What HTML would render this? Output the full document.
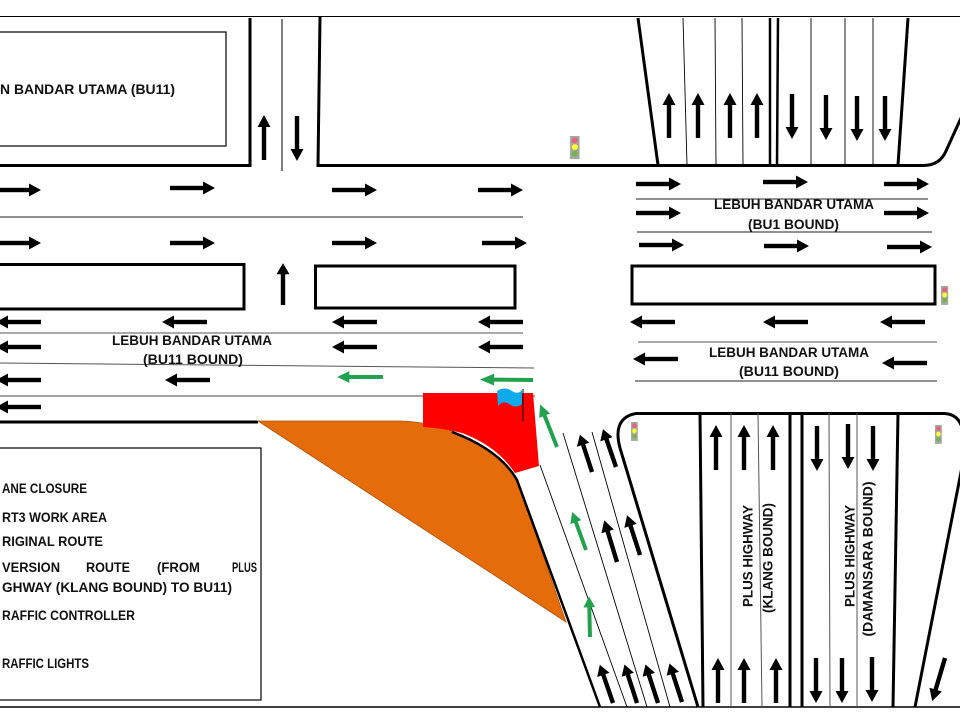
<!DOCTYPE html>
<html><head><meta charset="utf-8"><style>
html,body{margin:0;padding:0;background:#fff;}
svg{display:block;}
text{font-family:"Liberation Sans",Arial,sans-serif;font-weight:bold;font-size:13.5px;fill:#111;}
</style></head><body>
<svg width="960" height="720" viewBox="0 0 960 720" xmlns="http://www.w3.org/2000/svg">
<defs>
<g id="ar"><rect x="0" y="-2.2" width="34" height="4.4"/><polygon points="33,-6.5 45,0 33,6.5"/></g>
<g id="tl"><rect x="0" y="0" width="8" height="21" fill="#a3a8a0"/><circle cx="4" cy="4" r="2.6" fill="#e8607a"/><circle cx="4" cy="10" r="2.6" fill="#ffff33"/><circle cx="4" cy="16" r="2.6" fill="#7ab050"/></g>
</defs>
<rect width="960" height="720" fill="#fff"/>

<!-- top & bottom frame lines -->
<line x1="0" y1="16.5" x2="960" y2="16.5" stroke="#000" stroke-width="1"/>
<line x1="0" y1="707" x2="960" y2="707" stroke="#000" stroke-width="1.5"/>

<!-- top-left building -->
<rect x="-2" y="32" width="228" height="114" fill="none" stroke="#000" stroke-width="1.2"/>
<text x="0" y="94" textLength="175" lengthAdjust="spacingAndGlyphs">N BANDAR UTAMA (BU11)</text>

<!-- vertical road top-left -->
<polyline points="0,165.5 250,165.5 250,18" fill="none" stroke="#000" stroke-width="3"/>
<line x1="282" y1="19" x2="282" y2="171" stroke="#000" stroke-width="1"/>
<polyline points="320,17 318,165.5 925,165.5" fill="none" stroke="#000" stroke-width="3"/>
<path d="M924,165.5 Q940,165 946,151 L961,118" fill="none" stroke="#000" stroke-width="3"/>

<!-- upper-right vertical road -->
<line x1="638" y1="18" x2="658" y2="165" stroke="#000" stroke-width="3"/>
<line x1="683" y1="18" x2="687" y2="165" stroke="#000" stroke-width="0.9"/>
<line x1="715" y1="18" x2="716" y2="165" stroke="#000" stroke-width="0.9"/>
<line x1="742" y1="18" x2="743" y2="165" stroke="#000" stroke-width="0.9"/>
<line x1="770" y1="18" x2="770" y2="165" stroke="#000" stroke-width="2.5"/>
<line x1="778" y1="18" x2="777" y2="165" stroke="#000" stroke-width="2.5"/>
<line x1="811" y1="18" x2="811" y2="165" stroke="#000" stroke-width="0.9"/>
<line x1="845" y1="18" x2="845" y2="165" stroke="#000" stroke-width="0.9"/>
<line x1="873" y1="18" x2="873" y2="165" stroke="#000" stroke-width="0.9"/>
<line x1="908" y1="18" x2="898" y2="165" stroke="#000" stroke-width="3"/>

<!-- left horizontal road lines -->
<line x1="0" y1="217" x2="523" y2="217" stroke="#222" stroke-width="1"/>
<rect x="-3" y="264.5" width="247" height="44.5" fill="none" stroke="#000" stroke-width="3"/>
<rect x="315.5" y="266" width="199.5" height="42" fill="none" stroke="#000" stroke-width="3"/>
<line x1="0" y1="333" x2="523" y2="333" stroke="#555" stroke-width="1"/>
<line x1="0" y1="363" x2="534" y2="368" stroke="#555" stroke-width="1"/>
<line x1="0" y1="396" x2="535" y2="396" stroke="#444" stroke-width="1"/>
<line x1="0" y1="422" x2="258" y2="422" stroke="#000" stroke-width="3"/>

<!-- right horizontal road lines -->
<line x1="636" y1="199" x2="928" y2="199" stroke="#222" stroke-width="1"/>
<line x1="637" y1="232" x2="932" y2="232" stroke="#222" stroke-width="1"/>
<rect x="632" y="266" width="303" height="38" fill="none" stroke="#000" stroke-width="3"/>
<line x1="638" y1="342" x2="937" y2="342" stroke="#555" stroke-width="1"/>
<line x1="635" y1="381" x2="937" y2="381" stroke="#222" stroke-width="1"/>

<!-- orange work area -->
<path d="M258,421 L400,421 C440,422 492,440 517,480 L566,622 Z" fill="#e46c0a" stroke="#b0500a" stroke-width="0.8"/>
<!-- red lane closure -->
<path d="M423,393 L533,393 L539,466 L515,473 Q497,446 462,433 Q442,428 423,427 Z" fill="#ff0000"/>
<!-- left boundary of diagonal road -->
<path d="M452,432 Q500,450 517,480 L600,707" fill="none" stroke="#000" stroke-width="2.5"/>

<!-- diagonal road lines -->
<line x1="540" y1="465" x2="627" y2="707" stroke="#000" stroke-width="0.9"/>
<line x1="563" y1="433" x2="647" y2="707" stroke="#000" stroke-width="0.9"/>
<line x1="592" y1="432" x2="670" y2="707" stroke="#000" stroke-width="0.9"/>

<!-- Plus highway block -->
<path d="M698,707 L620,448 Q612,418 636,413.5 L944,413.5 Q960,414 963,432" fill="none" stroke="#000" stroke-width="3"/>
<line x1="963" y1="462" x2="915" y2="707" stroke="#000" stroke-width="3"/>
<line x1="700" y1="413" x2="703" y2="707" stroke="#000" stroke-width="3"/>
<line x1="731" y1="413" x2="731" y2="707" stroke="#555" stroke-width="1"/>
<line x1="758" y1="413" x2="762" y2="707" stroke="#555" stroke-width="1"/>
<line x1="790" y1="413" x2="790" y2="707" stroke="#000" stroke-width="3"/>
<line x1="802" y1="413" x2="802" y2="707" stroke="#000" stroke-width="3"/>
<line x1="829" y1="413" x2="830" y2="707" stroke="#555" stroke-width="1"/>
<line x1="857" y1="413" x2="857" y2="707" stroke="#555" stroke-width="1"/>
<line x1="898" y1="413" x2="893" y2="707" stroke="#000" stroke-width="3"/>

<!-- flag -->
<line x1="523" y1="389" x2="523" y2="421" stroke="#000" stroke-width="1"/>
<path d="M497,391 Q505,386 512,391 Q518,395 522,390 L522,404 Q516,409 509,404 Q503,400 498,406 Z" fill="#10aaea"/>

<!-- traffic lights -->
<use href="#tl" transform="translate(570,136) scale(1.2,1.1)"/>
<use href="#tl" transform="translate(941,286) scale(0.9,0.9)"/>
<use href="#tl" transform="translate(631,422) scale(0.85,0.9)"/>
<use href="#tl" transform="translate(935,425) scale(0.85,0.9)"/>

<!-- black arrows -->
<g fill="#000">
<!-- left road right-pointing -->
<use href="#ar" transform="translate(-4,190)"/>
<use href="#ar" transform="translate(170,188)"/>
<use href="#ar" transform="translate(332,190)"/>
<use href="#ar" transform="translate(478,190)"/>
<use href="#ar" transform="translate(-4,243)"/>
<use href="#ar" transform="translate(170,243)"/>
<use href="#ar" transform="translate(332,243)"/>
<use href="#ar" transform="translate(482,243)"/>
<!-- left road left-pointing -->
<use href="#ar" transform="translate(41,322) rotate(180)"/>
<use href="#ar" transform="translate(207,322) rotate(180)"/>
<use href="#ar" transform="translate(377,322) rotate(180)"/>
<use href="#ar" transform="translate(523,322) rotate(180)"/>
<use href="#ar" transform="translate(41,347) rotate(180)"/>
<use href="#ar" transform="translate(377,347) rotate(180)"/>
<use href="#ar" transform="translate(523,347) rotate(180)"/>
<use href="#ar" transform="translate(41,380) rotate(180)"/>
<use href="#ar" transform="translate(210,380) rotate(180)"/>
<use href="#ar" transform="translate(41,407) rotate(180)"/>
<!-- vertical arrows top-left -->
<use href="#ar" transform="translate(264,160) rotate(-90)"/>
<use href="#ar" transform="translate(297,116) rotate(90)"/>
<use href="#ar" transform="translate(283,305) rotate(-90) scale(0.93,1)"/>
<!-- upper right vertical road -->
<use href="#ar" transform="translate(669,138) rotate(-90)"/>
<use href="#ar" transform="translate(698,138) rotate(-90)"/>
<use href="#ar" transform="translate(730,138) rotate(-90)"/>
<use href="#ar" transform="translate(757,138) rotate(-90)"/>
<use href="#ar" transform="translate(792,94) rotate(90)"/>
<use href="#ar" transform="translate(826,95) rotate(90)"/>
<use href="#ar" transform="translate(857,96) rotate(90)"/>
<use href="#ar" transform="translate(885,96) rotate(90)"/>
<!-- right horizontal road -->
<use href="#ar" transform="translate(636,184)"/>
<use href="#ar" transform="translate(763,182)"/>
<use href="#ar" transform="translate(884,184)"/>
<use href="#ar" transform="translate(636,213)"/>
<use href="#ar" transform="translate(884,213)"/>
<use href="#ar" transform="translate(639,245)"/>
<use href="#ar" transform="translate(764,246)"/>
<use href="#ar" transform="translate(887,247)"/>
<use href="#ar" transform="translate(675,322) rotate(180)"/>
<use href="#ar" transform="translate(808,322) rotate(180)"/>
<use href="#ar" transform="translate(925,322) rotate(180)"/>
<use href="#ar" transform="translate(678,359) rotate(180)"/>
<use href="#ar" transform="translate(927,363) rotate(180)"/>
<!-- plus highway -->
<use href="#ar" transform="translate(716,470) rotate(-90)"/>
<use href="#ar" transform="translate(744,470) rotate(-90)"/>
<use href="#ar" transform="translate(773,470) rotate(-90)"/>
<use href="#ar" transform="translate(817,426) rotate(90)"/>
<use href="#ar" transform="translate(848,424) rotate(90)"/>
<use href="#ar" transform="translate(873,426) rotate(90)"/>
<use href="#ar" transform="translate(718,703) rotate(-90)"/>
<use href="#ar" transform="translate(744,703) rotate(-90)"/>
<use href="#ar" transform="translate(776,703) rotate(-90)"/>
<use href="#ar" transform="translate(816,658) rotate(90)"/>
<use href="#ar" transform="translate(842,658) rotate(90)"/>
<use href="#ar" transform="translate(872,657) rotate(90)"/>
<use href="#ar" transform="translate(945,658) rotate(106.5)"/>
<!-- diagonal road -->
<use href="#ar" transform="translate(592,472) rotate(-108) scale(0.87,1)"/>
<use href="#ar" transform="translate(616,467) rotate(-109) scale(0.89,1)"/>
<use href="#ar" transform="translate(617,562) rotate(-107) scale(0.97,1)"/>
<use href="#ar" transform="translate(640,555) rotate(-108) scale(0.93,1)"/>
<use href="#ar" transform="translate(613,703) rotate(-109) scale(0.9,1)"/>
<use href="#ar" transform="translate(637,703) rotate(-108) scale(0.9,1)"/>
<use href="#ar" transform="translate(658,703) rotate(-108) scale(0.9,1)"/>
<use href="#ar" transform="translate(682,702) rotate(-108) scale(0.9,1)"/>
</g>

<!-- green diversion arrows -->
<g fill="#22a14f">
<use href="#ar" transform="translate(383,377) rotate(180) scale(1.02,0.9)"/>
<use href="#ar" transform="translate(533,380) rotate(180.5) scale(1.18,0.9)"/>
<use href="#ar" transform="translate(557,447) rotate(-111.6) scale(1.02,0.9)"/>
<use href="#ar" transform="translate(586,550) rotate(-110) scale(0.9,0.9)"/>
<use href="#ar" transform="translate(590,637) rotate(-91.4) scale(0.9,0.9)"/>
</g>

<!-- road labels -->
<text x="112" y="345" textLength="160" lengthAdjust="spacingAndGlyphs">LEBUH BANDAR UTAMA</text>
<text x="143" y="364" textLength="100" lengthAdjust="spacingAndGlyphs">(BU11 BOUND)</text>
<text x="714" y="209" textLength="160" lengthAdjust="spacingAndGlyphs">LEBUH BANDAR UTAMA</text>
<text x="748" y="229" textLength="91" lengthAdjust="spacingAndGlyphs">(BU1 BOUND)</text>
<text x="709" y="357" textLength="160" lengthAdjust="spacingAndGlyphs">LEBUH BANDAR UTAMA</text>
<text x="739" y="376" textLength="100" lengthAdjust="spacingAndGlyphs">(BU11 BOUND)</text>

<!-- vertical labels -->
<text transform="translate(748,556) rotate(-90)" x="0" y="4.7" text-anchor="middle" textLength="102" lengthAdjust="spacingAndGlyphs">PLUS HIGHWAY</text>
<text transform="translate(768,558) rotate(-90)" x="0" y="4.7" text-anchor="middle" textLength="110" lengthAdjust="spacingAndGlyphs">(KLANG BOUND)</text>
<text transform="translate(850,556) rotate(-90)" x="0" y="4.7" text-anchor="middle" textLength="102" lengthAdjust="spacingAndGlyphs">PLUS HIGHWAY</text>
<text transform="translate(868,559) rotate(-90)" x="0" y="4.7" text-anchor="middle" textLength="155" lengthAdjust="spacingAndGlyphs">(DAMANSARA BOUND)</text>

<!-- legend -->
<rect x="-2" y="448" width="263" height="252" fill="none" stroke="#000" stroke-width="1.2"/>
<text x="2" y="493" textLength="85" lengthAdjust="spacingAndGlyphs">ANE CLOSURE</text>
<text x="2" y="522" textLength="105" lengthAdjust="spacingAndGlyphs">RT3 WORK AREA</text>
<text x="2" y="546" textLength="101" lengthAdjust="spacingAndGlyphs">RIGINAL ROUTE</text>
<text x="2" y="572" textLength="58" lengthAdjust="spacingAndGlyphs">VERSION</text>
<text x="86" y="572" textLength="44" lengthAdjust="spacingAndGlyphs">ROUTE</text>
<text x="157" y="572" textLength="43" lengthAdjust="spacingAndGlyphs">(FROM</text>
<text x="232" y="572" textLength="25" lengthAdjust="spacingAndGlyphs">PLUS</text>
<text x="2" y="592" textLength="230" lengthAdjust="spacingAndGlyphs">GHWAY (KLANG BOUND) TO BU11)</text>
<text x="2" y="620" textLength="133" lengthAdjust="spacingAndGlyphs">RAFFIC CONTROLLER</text>
<text x="2" y="668" textLength="87" lengthAdjust="spacingAndGlyphs">RAFFIC LIGHTS</text>
</svg>
</body></html>
